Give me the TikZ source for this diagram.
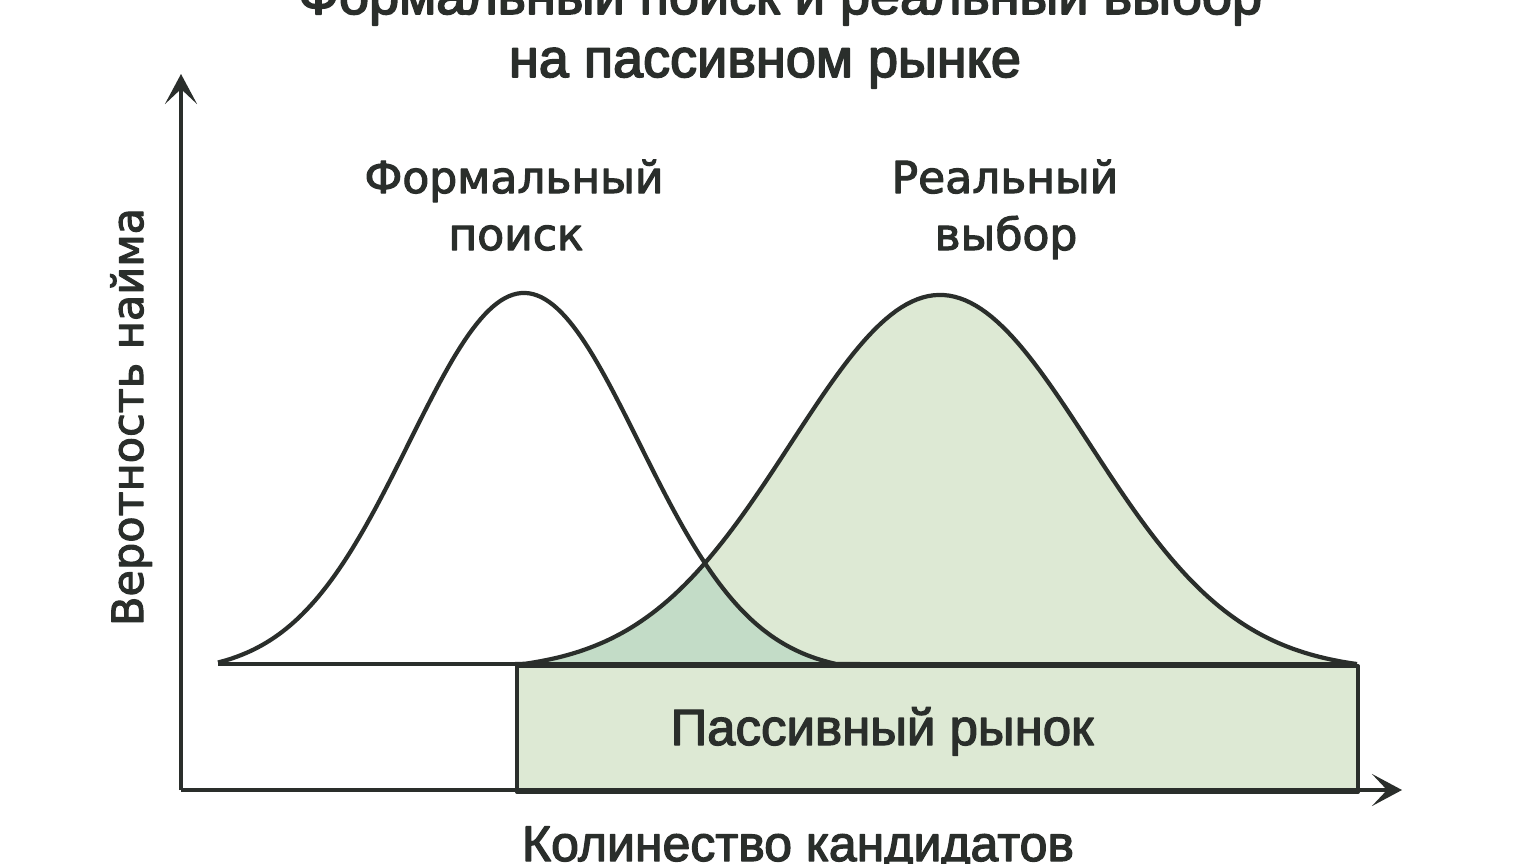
\documentclass[tikz,border=0pt]{standalone}
\usepackage{fontspec}
\setmainfont{Liberation Sans}
\newfontfamily\libmed[FakeBold=2.5]{Liberation Sans}
\newfontfamily\libtitle[FakeBold=3]{Liberation Sans}
\newfontfamily\dejavumed[FakeBold=2.5]{DejaVu Sans}
\usetikzlibrary{arrows.meta}
\definecolor{ink}{HTML}{2A2E2B}
\definecolor{lightgreen}{HTML}{DDE9D4}
\definecolor{darkgreen}{HTML}{C3DCC7}
\begin{document}
\begin{tikzpicture}[x=1pt,y=-1pt,line join=round,
  axisline/.style={draw=ink,line width=4pt,-{Stealth[length=30pt,width=32pt,inset=15pt]}},
  curveline/.style={draw=ink,line width=4.2pt},
  titletext/.style={anchor=base,font=\libtitle\fontsize{54}{60}\selectfont,text=ink,inner sep=0pt},
  curvelabel/.style={anchor=base,font=\dejavumed\fontsize{44}{50}\selectfont,text=ink,inner sep=0pt},
  axislabel/.style={anchor=base,font=\libmed\fontsize{50}{56}\selectfont,text=ink,inner sep=0pt},
  boxlabel/.style={anchor=base,font=\libmed\fontsize{51}{56}\selectfont,text=ink,inner sep=0pt}]
\useasboundingbox (0,0) rectangle (1536,864);
\fill[white] (0,0) rectangle (1536,864);
% fills
\fill[lightgreen] (515,664) -- plot[domain=515:1357,samples=160] (\x,{664-369*max(0,(exp(-0.5*((\x-940)/149)^2)-0.02)/0.98)}) -- (1357,664) -- cycle;
\node[draw=ink,line width=4pt,fill=lightgreen,minimum width=841pt,minimum height=126pt,anchor=north west,inner sep=0pt] (box) at (515,664) {};
\begin{scope}
\clip (218,664) -- plot[domain=218:860,samples=160] (\x,{664-371*max(0,(exp(-0.5*((\x-524)/115)^2)-0.025)/0.975)}) -- (860,664) -- cycle;
\fill[darkgreen] (515,664) -- plot[domain=515:1357,samples=160] (\x,{664-369*max(0,(exp(-0.5*((\x-940)/149)^2)-0.02)/0.98)}) -- (1357,664) -- cycle;
\end{scope}
% baseline and curves
\coordinate (bl) at (218,664);
\coordinate (br) at (1357,664);
\draw[curveline] (bl) -- (br);
\draw[curveline] plot[domain=218:860,samples=160] (\x,{664-371*max(0,(exp(-0.5*((\x-524)/115)^2)-0.025)/0.975)});
\draw[curveline] plot[domain=515:1357,samples=160] (\x,{664-369*max(0,(exp(-0.5*((\x-940)/149)^2)-0.02)/0.98)});
% axes
\coordinate (O) at (181,790);
\coordinate (ytip) at (181,74);
\coordinate (xtip) at (1402,790);
\draw[axisline] (O) -- (ytip);
\draw[axisline] (O) -- (xtip);
% texts
\node[titletext] (title1) at (780,14) {Формальный поиск и реальный выбор};
\node[titletext] (title2) at (765,77) {на пассивном рынке};
\node[curvelabel] (f1) at (514,193) {Формальный};
\node[curvelabel] (f2) at (516,250) {поиск};
\node[curvelabel] (r1) at (1005,193) {Реальный};
\node[curvelabel] (r2) at (1006,250) {выбор};
\node[boxlabel] (pl) at (882,745) {Пассивный рынок};
\node[axislabel] (xl) at (798,861) {Колинество кандидатов};
\node[anchor=base,rotate=90,font=\dejavumed\fontsize{43}{48}\selectfont,text=ink,inner sep=0pt] (yl) at (143,417) {Веротность найма};
\end{tikzpicture}
\end{document}
